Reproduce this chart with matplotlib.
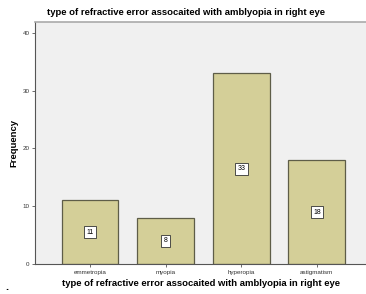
import matplotlib.pyplot as plt

plt.rcParams['font.family'] = ['Liberation Sans', 'DejaVu Sans']

# data
categories = ['emmetropia', 'myopia', 'hyperopia', 'astigmatism']
counts = [11, 8, 33, 18]
yticks = [0, 10, 20, 30, 40]

fig = plt.figure(figsize=(3.66, 2.94), dpi=100)
ax = fig.add_axes([35 / 366, 30 / 294, 331 / 366, 242 / 294])
ax.set_facecolor('#f0f0f0')

x = list(range(len(categories)))
bars = ax.bar(x, counts, width=0.75, color='#d4cf98', edgecolor='#5e5d48', linewidth=0.9)

# value labels in white boxes at mid height
for xi, c in zip(x, counts):
    ax.text(xi, c / 2, str(c), ha='center', va='center', fontsize=5,
            bbox=dict(boxstyle='square,pad=0.35', fc='white', ec='#333333', lw=0.6))

ax.set_xlim(-0.727, 3.65)
ax.set_ylim(0, 41.9)
ax.set_xticks(x)
ax.set_xticklabels(categories, fontsize=4.5, color='#333333')
ax.set_yticks(yticks)
ax.set_yticklabels([str(t) for t in yticks], fontsize=4.5, color='#333333')
ax.tick_params(length=2.5, width=0.6, color='#555555', pad=1.5)

for s in ['left', 'bottom']:
    ax.spines[s].set_color('#555555')
    ax.spines[s].set_linewidth(0.8)
ax.spines['top'].set_color('#aaaaaa')
ax.spines['top'].set_linewidth(1.2)
ax.spines['right'].set_visible(False)

ax.set_title('type of refractive error assocaited with amblyopia in right eye',
             fontsize=6.8, fontweight='bold', pad=5, x=0.455)
ax.set_xlabel('type of refractive error assocaited with amblyopia in right eye',
              fontsize=6.8, fontweight='bold', labelpad=3)
ax.set_ylabel('Frequency', fontsize=6.8, fontweight='bold', labelpad=3)

fig.text(5 / 366, 1 - 290 / 294, '.', fontsize=8, fontweight='bold')

fig.savefig('out.png', dpi=100)
